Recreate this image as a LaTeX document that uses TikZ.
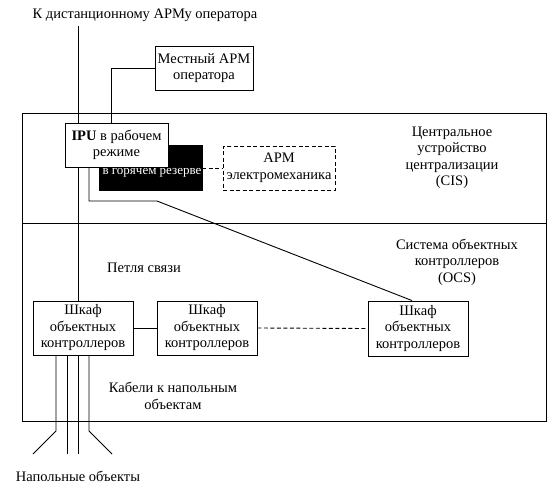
\documentclass[tikz,border=0pt]{standalone}
\usepackage{fontspec}
\setmainfont{Liberation Serif}
\begin{document}
\begin{tikzpicture}[x=1pt,y=-1pt,
  every node/.style={font=\fontsize{14.5}{16.5}\selectfont, inner sep=0pt, align=center},
  box/.style={draw, fill=white, line width=0.9pt},
  dbox/.style={draw, dash pattern=on 4pt off 2.5pt, fill=white, line width=0.9pt},
  blk/.style={draw, fill=black},
  ln/.style={line width=0.9pt},
  dln/.style={line width=0.9pt, dash pattern=on 4pt off 2.5pt}]
\useasboundingbox (0,0) rectangle (554,487);
% frame
\draw[ln] (22,113) rectangle (546,421);
\draw[ln] (22,223) -- (546,223);
% texts
\node (toptxt) at (145,15) {К дистанционному АРМу оператора};
\node (cistxt) at (452,158) {Центральное\\устройство\\централизации\\(CIS)};
\node (ocstxt) at (457,262) {Система объектных\\контроллеров\\(OCS)};
\node (loop) at (144,268) {Петля связи};
\node (cables) at (173,396) {Кабели к напольным\\объектам};
\node (field) at (78,476) {Напольные объекты};
% cabinets
\node[box, minimum width=100pt, minimum height=54pt] (cab1) at (83,328) {Шкаф\\объектных\\контроллеров};
\node[box, minimum width=100pt, minimum height=54pt] (cab2) at (207,328) {Шкаф\\объектных\\контроллеров};
\node[box, minimum width=100pt, minimum height=55pt] (cab3) at (418,328.5) {Шкаф\\объектных\\контроллеров};
% vertical line to remote operator
\coordinate (vtop) at (78,26);
\draw[ln] (vtop) -- (vtop |- cab1.north);
% local ARM
\node[box, minimum width=98pt, minimum height=44pt] (arm) at (204,68) {Местный АРМ\\оператора};
% hot standby
\node[blk, minimum width=103pt, minimum height=45pt] (hot) at (150.5,167.5) {};
\node[text=white, font=\fontsize{13}{15}\selectfont] (hottxt) at (152,173) {в горячем резерве};
% electromechanic ARM
\node[dbox, minimum width=112pt, minimum height=44pt] (emarm) at (279,168) {АРМ\\электромеханика};
\draw[dln] (hot.east |- emarm.west) -- (emarm.west);
% IPU
\node[box, minimum width=103pt, minimum height=44pt] (ipu) at (116.5,145) {\textbf{IPU} в рабочем\\режиме};
\coordinate (armdrop) at (111,0);
\draw[ln] (arm.west) -| (armdrop |- ipu.north);
% link IPU to far cabinet
\coordinate (ipudrop) at (89,0);
\coordinate (bend1) at (89,201);
\coordinate (bend2) at (157,201);
\coordinate (cab3top) at (412,0);
\draw[ln] (ipudrop |- ipu.south) -- (bend1) -- (bend2) -- (cab3top |- cab3.north);
% cabinet links
\draw[ln] (cab1.east) -- (cab2.west);
\draw[dln] (cab2.east) -- (cab3.west);
% cables
\coordinate (c1) at (56,0); \coordinate (c2) at (67,0);
\coordinate (c3) at (78,0); \coordinate (c4) at (89,0);
\coordinate (k1) at (56,431); \coordinate (k4) at (89,431);
\coordinate (e1) at (33,454); \coordinate (e2) at (67,454);
\coordinate (e3) at (78,454); \coordinate (e4) at (112,454);
\draw[ln] (c1 |- cab1.south) -- (k1) -- (e1);
\draw[ln] (c2 |- cab1.south) -- (e2);
\draw[ln] (c3 |- cab1.south) -- (e3);
\draw[ln] (c4 |- cab1.south) -- (k4) -- (e4);
\end{tikzpicture}
\end{document}
